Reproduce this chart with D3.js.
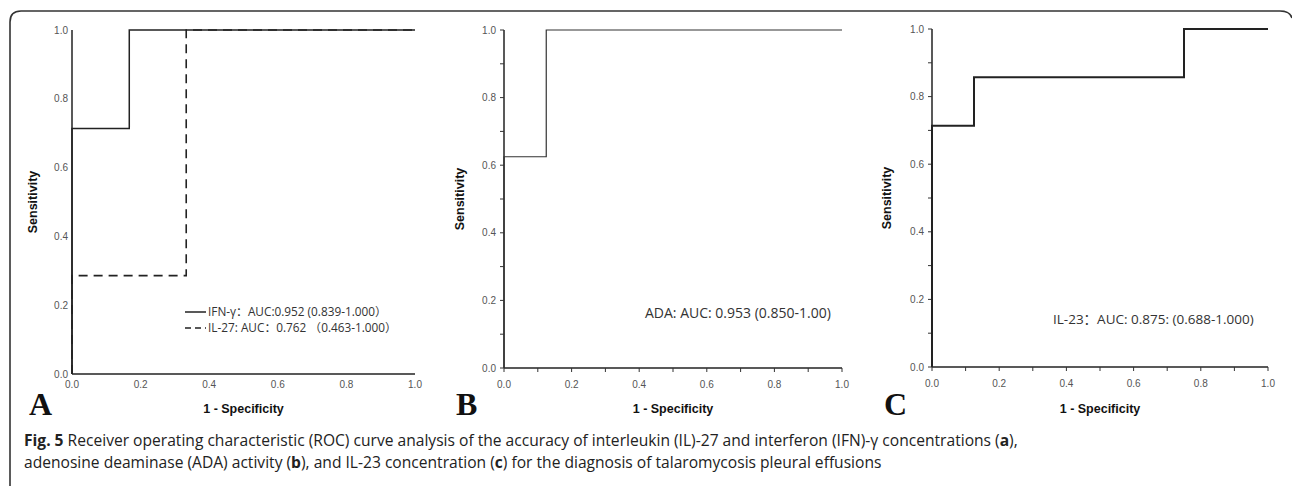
<!DOCTYPE html>
<html>
<head>
<meta charset="utf-8">
<script src="https://cdn.jsdelivr.net/npm/d3@7"></script>
<style>
  body { margin: 0; background: #fff; }
  svg { display: block; }
  .tick-label { font-family: Arial, "Liberation Sans", sans-serif; font-size: 10px; fill: #555; }
  .axis-title { font-family: Arial, "Liberation Sans", sans-serif; font-size: 12.5px; font-weight: bold; fill: #111; }
  .panel-letter { font-family: "Liberation Serif", "Times New Roman", serif; font-size: 32px; font-weight: bold; fill: #111; }
  .note { font-family: "Open Sans", "Noto Sans CJK SC", sans-serif; fill: #333; }
  .caption { font-family: "Open Sans", "Noto Sans", sans-serif; font-size: 15.6px; fill: #222; }
</style>
</head>
<body>
<svg id="fig" width="1292" height="486"></svg>
<script>
// tick values shared by all three plots
const majorTicks = [0, 0.2, 0.4, 0.6, 0.8, 1.0];
const minorTicks = [0.1, 0.3, 0.5, 0.7, 0.9];

// ROC points (1 - specificity, sensitivity)
const ifnFpr = [0, 0, 0.167, 1];
const ifnTpr = [0, 0.714, 1, 1];
const il27Fpr = [0, 0, 0.333, 1];
const il27Tpr = [0, 0.286, 1, 1];
const adaFpr = [0, 0, 0.125, 1];
const adaTpr = [0, 0.625, 1, 1];
const il23Fpr = [0, 0, 0.125, 0.75, 1];
const il23Tpr = [0, 0.714, 0.857, 1, 1];

const legendLabels = ["IFN-γ：AUC:0.952 (0.839-1.000）", "IL-27: AUC：0.762 （0.463-1.000）"];
const adaLabel = "ADA: AUC: 0.953 (0.850-1.00)";
const il23Label = "IL-23：AUC: 0.875: (0.688-1.000)";

const svg = d3.select("#fig");

// outer frame with rounded top corners, open at the bottom
svg.append("path")
  .attr("d", "M10,486 L10,22 Q10,11 21,11 L1280,11 Q1290,11 1292,18")
  .attr("fill", "none")
  .attr("stroke", "#333")
  .attr("stroke-width", 1.6);

function toPoints(xs, ys) {
  return xs.map((x, i) => [x, ys[i]]);
}

function drawPanel(opt) {
  const xScale = d3.scaleLinear().domain([0, 1]).range([opt.left, opt.right]);
  const yScale = d3.scaleLinear().domain([0, 1]).range([opt.bottom, opt.top]);
  const g = svg.append("g");

  // axis lines
  g.append("line")
    .attr("x1", xScale(0)).attr("x2", xScale(0))
    .attr("y1", yScale(0)).attr("y2", yScale(1))
    .attr("stroke", "#222").attr("stroke-width", 1.5);
  g.append("line")
    .attr("x1", xScale(0)).attr("x2", xScale(1))
    .attr("y1", yScale(0)).attr("y2", yScale(0))
    .attr("stroke", "#222").attr("stroke-width", 1.6);

  // tick marks (panels B and C only)
  if (opt.ticks) {
    const all = majorTicks.concat(minorTicks);
    g.selectAll(".ytk").data(all).enter().append("line")
      .attr("x1", xScale(0) - 4).attr("x2", xScale(0))
      .attr("y1", d => yScale(d)).attr("y2", d => yScale(d))
      .attr("stroke", "#333").attr("stroke-width", 1);
    g.selectAll(".xtk").data(all).enter().append("line")
      .attr("x1", d => xScale(d)).attr("x2", d => xScale(d))
      .attr("y1", yScale(0)).attr("y2", yScale(0) + 4)
      .attr("stroke", "#333").attr("stroke-width", 1);
  }

  // tick labels
  const off = opt.ticks ? 8 : 4;
  g.selectAll(".ylab").data(majorTicks).enter().append("text")
    .attr("class", "tick-label")
    .attr("x", xScale(0) - off)
    .attr("y", d => yScale(d) + 3.5)
    .attr("text-anchor", "end")
    .text(d => d.toFixed(1));
  g.selectAll(".xlab").data(majorTicks).enter().append("text")
    .attr("class", "tick-label")
    .attr("x", d => xScale(d))
    .attr("y", yScale(0) + (opt.ticks ? 20 : 14))
    .attr("text-anchor", "middle")
    .text(d => d.toFixed(1));

  // axis titles
  g.append("text")
    .attr("class", "axis-title")
    .attr("transform", "translate(" + opt.yTitleX + "," + (opt.top + opt.bottom) / 2 + ") rotate(-90)")
    .attr("text-anchor", "middle")
    .text("Sensitivity");
  g.append("text")
    .attr("class", "axis-title")
    .attr("x", (opt.left + opt.right) / 2)
    .attr("y", 413)
    .attr("text-anchor", "middle")
    .text("1 - Specificity");

  // panel letter
  g.append("text")
    .attr("class", "panel-letter")
    .attr("x", opt.letterX)
    .attr("y", 415)
    .text(opt.letter);

  const line = d3.line()
    .x(d => xScale(d[0]))
    .y(d => yScale(d[1]))
    .curve(d3.curveStepAfter);

  opt.series.forEach(s => {
    g.append("path")
      .attr("d", line(s.points))
      .attr("fill", "none")
      .attr("stroke", s.color)
      .attr("stroke-width", s.width)
      .attr("stroke-dasharray", s.dash || null);
  });

  return { g, xScale, yScale };
}

// Panel A
const pa = drawPanel({
  left: 72, right: 415, top: 30, bottom: 374,
  ticks: false, yTitleX: 37, letter: "A", letterX: 29,
  series: [
    { points: toPoints(il27Fpr, il27Tpr), color: "#222", width: 1.6, dash: "9,6" },
    { points: toPoints(ifnFpr, ifnTpr), color: "#222", width: 1.5 }
  ]
});

// legend for panel A
const legendDash = [null, "6,4"];
legendLabels.forEach((lab, i) => {
  const y = 312 + i * 16;
  pa.g.append("line")
    .attr("x1", 185).attr("x2", 206)
    .attr("y1", y).attr("y2", y)
    .attr("stroke", "#222").attr("stroke-width", 1.5)
    .attr("stroke-dasharray", legendDash[i]);
  pa.g.append("text")
    .attr("class", "note")
    .attr("x", 208).attr("y", y + 4)
    .style("font-size", "11.8px")
    .text(lab);
});

// Panel B
const pb = drawPanel({
  left: 504, right: 842, top: 30, bottom: 368,
  ticks: true, yTitleX: 464, letter: "B", letterX: 456,
  series: [
    { points: toPoints(adaFpr, adaTpr), color: "#333", width: 1.2 }
  ]
});
pb.g.append("text")
  .attr("class", "note")
  .attr("x", 645).attr("y", 318)
  .style("font-size", "14px")
  .text(adaLabel);

// Panel C
const pc = drawPanel({
  left: 932, right: 1268, top: 29, bottom: 367,
  ticks: true, yTitleX: 891, letter: "C", letterX: 884,
  series: [
    { points: toPoints(il23Fpr, il23Tpr), color: "#222", width: 2 }
  ]
});
pc.g.append("text")
  .attr("class", "note")
  .attr("x", 1053).attr("y", 324)
  .style("font-size", "13.5px")
  .text(il23Label);

// caption
const cap1 = svg.append("text").attr("class", "caption").attr("x", 24).attr("y", 446);
cap1.append("tspan").attr("font-weight", "bold").text("Fig. 5");
cap1.append("tspan").text(" Receiver operating characteristic (ROC) curve analysis of the accuracy of interleukin (IL)-27 and interferon (IFN)-γ concentrations (");
cap1.append("tspan").attr("font-weight", "bold").text("a");
cap1.append("tspan").text("),");

const cap2 = svg.append("text").attr("class", "caption").attr("x", 24).attr("y", 468);
cap2.append("tspan").text("adenosine deaminase (ADA) activity (");
cap2.append("tspan").attr("font-weight", "bold").text("b");
cap2.append("tspan").text("), and IL-23 concentration (");
cap2.append("tspan").attr("font-weight", "bold").text("c");
cap2.append("tspan").text(") for the diagnosis of talaromycosis pleural effusions");
</script>
</body>
</html>
